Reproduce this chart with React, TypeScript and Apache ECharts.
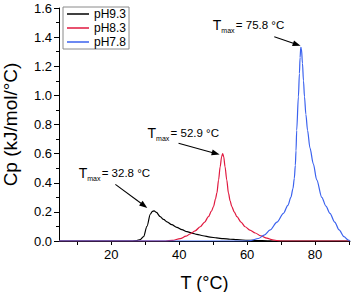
import React, { useEffect, useRef } from "react";
import * as echarts from "echarts";

const seriesNames = ["pH9.3", "pH8.3", "pH7.8"];
const seriesColors = ["#000000", "#e0193f", "#3b62ee"];

const pH93: [number, number][] = [
  [4.6, 0], [20, 0], [26, 0], [27.5, 0.003], [28.5, 0.01], [29.5, 0.03], [30.5, 0.1],
  [31.5, 0.185], [32.1, 0.203], [32.6, 0.207], [33.3, 0.196], [34.4, 0.167], [35.4, 0.148],
  [36.4, 0.132], [37.8, 0.112], [39.3, 0.094], [40.8, 0.078], [42.3, 0.064], [43.8, 0.054],
  [45.2, 0.046], [47, 0.036], [49.1, 0.027], [51, 0.021], [53, 0.016], [55, 0.012],
  [57, 0.009], [60.3, 0.005], [63, 0.003], [66, 0.001], [68, 0], [90.3, 0],
];

const pH83: [number, number][] = [
  [4.6, 0], [36, 0], [38, 0.004], [40.3, 0.016], [42, 0.033], [43.2, 0.048], [44.7, 0.07],
  [46.2, 0.098], [47.5, 0.13], [48.6, 0.167], [49.5, 0.205], [50.1, 0.236], [50.7, 0.29],
  [51.1, 0.33], [51.6, 0.42], [52.06, 0.51], [52.5, 0.58], [52.8, 0.6], [53.1, 0.58],
  [53.5, 0.51], [54.0, 0.42], [54.5, 0.33], [55.0, 0.275], [55.5, 0.236], [56.2, 0.2],
  [57, 0.167], [58.2, 0.13], [59.4, 0.098], [60.8, 0.075], [62.4, 0.055], [64, 0.036],
  [65.8, 0.02], [67.5, 0.008], [69, 0.002], [70, 0], [90.3, 0],
];

const pH78: [number, number][] = [
  [4.6, 0], [60, 0], [61, 0.003], [63.3, 0.017], [65, 0.04], [66.8, 0.076], [68.8, 0.13],
  [70.7, 0.19], [72, 0.245], [72.9, 0.3], [73.5, 0.36], [73.9, 0.43], [74.2, 0.52],
  [74.4, 0.62], [74.6, 0.76], [75.1, 0.99], [75.4, 1.15], [75.6, 1.26], [75.8, 1.33],
  [76.0, 1.32], [76.3, 1.22], [76.6, 1.1], [76.9, 0.99], [77.3, 0.87], [77.8, 0.76],
  [78.5, 0.64], [79.5, 0.53], [80.5, 0.42], [82, 0.3], [83.2, 0.24], [84.4, 0.19],
  [85.8, 0.13], [87.1, 0.076], [88.5, 0.03], [89.8, 0.007], [90.3, 0],
];

const xTickValues = [10, 20, 30, 40, 50, 60, 70, 80, 90];
const xLabelValues = [20, 40, 60, 80];

// annotations: label value, text anchor (left, middle), arrow start, arrow tip — in data coords
const annoLabels = ["75.8", "52.9", "32.8"];
const annoText: [number, number][] = [[49.9, 1.48], [30.7, 0.744], [10.4, 0.469]];
const annoFrom: [number, number][] = [[68.0, 1.403], [39.8, 0.671], [21.2, 0.389]];
const annoTip: [number, number][] = [[75.75, 1.34], [51.9, 0.594], [30.6, 0.227]];

const FONT = "'Liberation Sans', Arial, sans-serif";

export default function App() {
  const ref = useRef<HTMLDivElement>(null);
  useEffect(() => {
    if (!ref.current) return;
    const chart = echarts.init(ref.current, undefined, { renderer: "svg" });
    const data = [pH93, pH83, pH78];
    chart.setOption({
      animation: false,
      backgroundColor: "#ffffff",
      textStyle: { fontFamily: FONT },
      grid: { left: 59, top: 8, right: 2, bottom: 51, containLabel: false, outerBoundsMode: "none" },
      legend: {
        orient: "vertical",
        left: 63,
        top: 7,
        padding: [1, 3, 1, 4],
        itemGap: 2,
        itemWidth: 22,
        itemHeight: 1.5,
        icon: "rect",
        borderColor: "#8a8a8a",
        borderWidth: 1,
        textStyle: { fontSize: 12, color: "#000", fontFamily: FONT, lineHeight: 12 },
        data: seriesNames,
      },
      xAxis: {
        type: "value",
        min: 4.6,
        max: 90.3,
        name: "T (°C)",
        nameLocation: "middle",
        nameGap: 33,
        nameTextStyle: { fontSize: 18, color: "#000", fontFamily: FONT },
        axisLine: { show: true, lineStyle: { color: "#000", width: 1 } },
        axisTick: { show: true, length: 4, customValues: xTickValues, lineStyle: { color: "#000" } },
        axisLabel: { customValues: xLabelValues, fontSize: 13, color: "#000", margin: 7, fontFamily: FONT },
        splitLine: { show: false },
      },
      yAxis: {
        type: "value",
        min: 0,
        max: 1.6,
        interval: 0.2,
        name: "Cp (kJ/mol/°C)",
        nameLocation: "middle",
        nameGap: 39,
        nameTextStyle: { fontSize: 19, color: "#000", fontFamily: FONT },
        axisLine: { show: true, lineStyle: { color: "#000", width: 1 } },
        axisTick: { show: true, length: 5, lineStyle: { color: "#000" } },
        minorTick: { show: true, splitNumber: 2, length: 3, lineStyle: { color: "#000" } },
        axisLabel: {
          fontSize: 13,
          color: "#000",
          margin: 7,
          fontFamily: FONT,
          formatter: (v: number) => v.toFixed(1),
        },
        splitLine: { show: false },
      },
      series: data.map((d, i) => ({
        name: seriesNames[i],
        type: "line",
        data: d,
        showSymbol: false,
        smooth: 0.3,
        smoothMonotone: "x",
        lineStyle: { color: seriesColors[i], width: 1.2 },
        itemStyle: { color: seriesColors[i] },
        z: 2 + i,
      })),
    });

    const px = (p: [number, number]) => chart.convertToPixel({ gridIndex: 0 }, p) as number[];
    const graphics: any[] = [];
    annoLabels.forEach((lab, i) => {
      const t = px(annoText[i]);
      graphics.push({
        type: "group",
        x: t[0],
        y: t[1],
        silent: true,
        children: [
          { type: "text", x: 0, y: 0, style: { text: "T", font: `14px ${FONT}`, fill: "#000", verticalAlign: "middle", align: "left" } },
          { type: "text", x: 8.5, y: 5.5, style: { text: "max", font: `7px ${FONT}`, fill: "#000", verticalAlign: "middle", align: "left" } },
          { type: "text", x: 23, y: 0, style: { text: `= ${lab} °C`, font: `11.5px ${FONT}`, fill: "#000", verticalAlign: "middle", align: "left" } },
        ],
      });
      const a = px(annoFrom[i]);
      const b = px(annoTip[i]);
      const dx = b[0] - a[0];
      const dy = b[1] - a[1];
      const len = Math.sqrt(dx * dx + dy * dy);
      const ux = dx / len;
      const uy = dy / len;
      const hl = 8;
      const hw = 3;
      const bx = b[0] - ux * hl;
      const by = b[1] - uy * hl;
      graphics.push({
        type: "line",
        silent: true,
        shape: { x1: a[0], y1: a[1], x2: bx + ux * 1, y2: by + uy * 1 },
        style: { stroke: "#000", lineWidth: 1.1 },
      });
      graphics.push({
        type: "polygon",
        silent: true,
        shape: {
          points: [
            [b[0], b[1]],
            [bx - uy * hw, by + ux * hw],
            [bx + uy * hw, by - ux * hw],
          ],
        },
        style: { fill: "#000" },
      });
    });
    chart.setOption({ graphic: graphics });

    return () => chart.dispose();
  }, []);
  return (
    <div
      ref={ref}
      style={{ position: "fixed", left: 0, top: 0, width: 352, height: 292 }}
    />
  );
}
